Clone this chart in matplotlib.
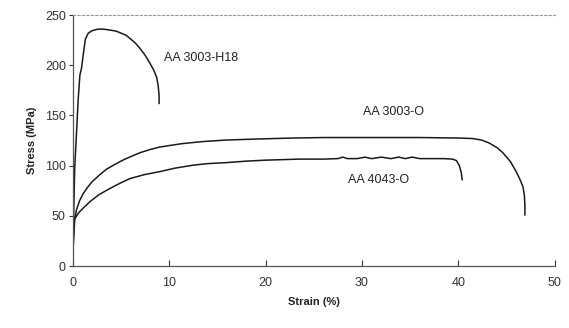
import matplotlib.pyplot as plt

plt.rcParams['font.family'] = ['Liberation Sans', 'DejaVu Sans']

# AA 3003-H18
h18_strain = [0.0, 0.08, 0.2, 0.38, 0.55, 0.73, 0.9, 1.1, 1.3, 1.6, 2.0, 2.6, 3.2, 3.9, 4.5, 5.0, 5.5, 5.9, 6.5, 6.95, 7.5, 8.0, 8.4, 8.7, 8.85, 8.95, 8.95]
h18_stress = [0, 50, 99, 132, 165, 190, 197, 212, 226, 232, 234.5, 236, 236, 235, 234, 232, 230, 227, 222, 217, 210, 202, 195, 188, 180, 170, 162]

# AA 3003-O
o3003_strain = [0.0, 0.05, 0.15, 0.38, 0.7, 1.07, 1.5, 2.0, 2.8, 3.5, 4.5, 5.3, 6.25, 7.0, 8.0, 9.0, 10.0, 11.4, 13.5, 15.9, 19.0, 22.8, 26.0, 30.0, 36.0, 40.0, 41.5, 42.4, 43.2, 44.0, 44.6, 45.4, 46.0, 46.4, 46.7, 46.85, 46.9, 46.9]
o3003_stress = [0, 25, 45, 56, 65, 72, 78, 84, 91, 96.5, 102, 106, 110, 113, 116, 118.5, 120, 122, 124, 125.5, 126.5, 127.5, 128, 128, 128, 127.5, 127, 125.5, 122.5, 118, 113, 104, 94, 86, 79, 70, 60, 51]

# AA 4043-O
o4043_strain = [0.0, 0.05, 0.2, 0.6, 1.0, 1.76, 2.7, 3.8, 4.8, 5.9, 7.4, 9.0, 10.6, 12.5, 14.0, 15.9, 18.0, 20.1, 23.5, 26.0, 27.5, 28.0, 28.5, 29.5, 30.3, 31.0, 32.0, 33.0, 33.8, 34.5, 35.2, 36.0, 37.0, 38.5, 39.4, 39.8, 40.1, 40.3, 40.4]
o4043_stress = [0, 22, 47, 53, 57, 64, 71, 77, 82, 87, 91, 94, 97.5, 100.5, 102, 103, 104.5, 105.5, 106.5, 106.5, 107, 108.5, 107, 107, 108.5, 107, 108.5, 107, 108.5, 107, 108.5, 107, 107, 107, 106.5, 105, 100, 93, 86]

labels = ['AA 3003-H18', 'AA 3003-O', 'AA 4043-O']
label_pos = [(9.5, 207), (30.1, 153), (28.5, 86)]

fig = plt.figure(figsize=(5.69, 3.28), dpi=100)
ax = fig.add_axes([0.128, 0.189, 0.847, 0.765])

for xs, ys in [(h18_strain, h18_stress), (o3003_strain, o3003_stress), (o4043_strain, o4043_stress)]:
    ax.plot(xs, ys, color='#1a1a1a', lw=1.1)

for txt, (x, y) in zip(labels, label_pos):
    ax.text(x, y, txt, fontsize=9, color='#222222', va='center', ha='left')

ax.set_xlim(0, 50)
ax.set_ylim(0, 250)
ax.set_xticks([0, 10, 20, 30, 40, 50])
ax.set_yticks([0, 50, 100, 150, 200, 250])
ax.tick_params(axis='x', direction='in', length=4, labelsize=9, pad=8, colors='#333333')
ax.tick_params(axis='y', direction='out', length=3, labelsize=9, pad=2, colors='#333333')

ax.spines['right'].set_visible(False)
ax.spines['top'].set_linestyle((0, (2, 2)))
ax.spines['top'].set_color('#999999')
ax.spines['top'].set_linewidth(0.8)
for s in ['left', 'bottom']:
    ax.spines[s].set_color('#555555')
    ax.spines[s].set_linewidth(0.9)

ax.set_xlabel('Strain (%)', fontsize=8, fontweight='bold', color='#222222', labelpad=6)
ax.set_ylabel('Stress (MPa)', fontsize=8, fontweight='bold', color='#222222', labelpad=6)

fig.savefig('out.png', dpi=100)
